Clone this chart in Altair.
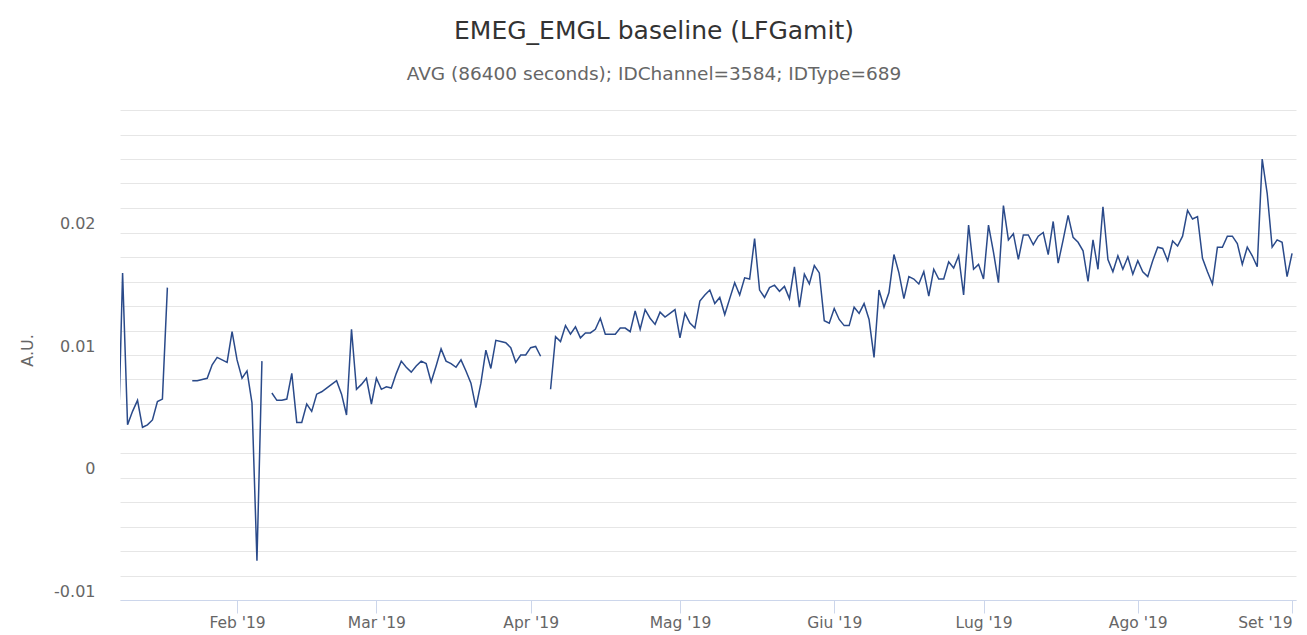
import altair as alt
import pandas as pd

# ---------------- data (daily averages, None = missing day) ----------------
start_date = "2019-01-08"
values = [
    # Jan 8 - Jan 31
    0.0010, 0.0167, 0.0043, 0.0054, 0.0063, 0.0041, 0.0043, 0.0047, 0.0062, 0.0064, 0.0155,
    None, None, None, None,
    0.0079, 0.0079, 0.0080, 0.0081, 0.0092, 0.0098, 0.0096, 0.0094, 0.0119,
    # Feb 1 - Feb 28
    0.0096, 0.0081, 0.0087, 0.0061, -0.0068, 0.0095, None, 0.0069, 0.0063, 0.0063,
    0.0064, 0.0085, 0.0045, 0.0045, 0.0060, 0.0054, 0.0068, 0.0070, 0.0073, 0.0076,
    0.0079, 0.0068, 0.0051, 0.0121, 0.0072, 0.0076, 0.0081, 0.0060,
    # Mar 1 - Mar 31
    0.0081, 0.0072, 0.0074, 0.0073, 0.0085, 0.0095, 0.0090, 0.0086, 0.0091, 0.0095,
    0.0093, 0.0078, 0.0091, 0.0105, 0.0095, 0.0093, 0.0090, 0.0096, 0.0087, 0.0077,
    0.0057, 0.0077, 0.0104, 0.0089, 0.0112, 0.0111, 0.0110, 0.0106, 0.0094, 0.0100, 0.0100,
    # Apr 1 - Apr 30
    0.0106, 0.0107, 0.0099, None, 0.0072, 0.0115, 0.0111, 0.0124, 0.0117, 0.0123,
    0.0114, 0.0118, 0.0118, 0.0121, 0.0130, 0.0117, 0.0117, 0.0117, 0.0122, 0.0122,
    0.0119, 0.0136, 0.0121, 0.0137, 0.0130, 0.0125, 0.0135, 0.0131, 0.0134, 0.0137,
    # May 1 - May 31
    0.0114, 0.0134, 0.0126, 0.0122, 0.0144, 0.0149, 0.0153, 0.0142, 0.0147, 0.0133,
    0.0146, 0.0159, 0.0149, 0.0163, 0.0162, 0.0195, 0.0153, 0.0147, 0.0155, 0.0157,
    0.0152, 0.0156, 0.0146, 0.0172, 0.0139, 0.0166, 0.0158, 0.0173, 0.0167, 0.0128, 0.0126,
    # Jun 1 - Jun 30
    0.0138, 0.0129, 0.0124, 0.0124, 0.0139, 0.0134, 0.0142, 0.0129, 0.0098, 0.0153,
    0.0139, 0.0151, 0.0182, 0.0167, 0.0146, 0.0164, 0.0162, 0.0158, 0.0168, 0.0148,
    0.0170, 0.0162, 0.0162, 0.0176, 0.0171, 0.0181, 0.0149, 0.0206, 0.0170, 0.0174,
    # Jul 1 - Jul 31
    0.0162, 0.0206, 0.0184, 0.0159, 0.0222, 0.0194, 0.0199, 0.0178, 0.0198, 0.0198,
    0.0190, 0.0197, 0.0200, 0.0182, 0.0209, 0.0175, 0.0194, 0.0214, 0.0196, 0.0192,
    0.0185, 0.0160, 0.0194, 0.0170, 0.0221, 0.0178, 0.0168, 0.0181, 0.0170, 0.0180, 0.0166,
    # Aug 1 - Aug 31
    0.0177, 0.0168, 0.0164, 0.0177, 0.0188, 0.0187, 0.0177, 0.0193, 0.0189, 0.0197,
    0.0218, 0.0211, 0.0213, 0.0179, 0.0168, 0.0158, 0.0188, 0.0188, 0.0197, 0.0197,
    0.0191, 0.0174, 0.0188, 0.0181, 0.0172, 0.0260, 0.0232, 0.0188, 0.0194, 0.0192, 0.0164,
    # Sep 1
    0.0183,
]

x_tick_dates = ["2019-02-01", "2019-03-01", "2019-04-01", "2019-05-01",
                "2019-06-01", "2019-07-01", "2019-08-01", "2019-09-01"]
month_names = ["Gen", "Feb", "Mar", "Apr", "Mag", "Giu", "Lug", "Ago", "Set", "Ott", "Nov", "Dic"]
y_grid_values = [-0.010, -0.008, -0.006, -0.004, -0.002, 0.0, 0.002, 0.004, 0.006, 0.008,
                 0.010, 0.012, 0.014, 0.016, 0.018, 0.020, 0.022, 0.024, 0.026, 0.028, 0.030]
y_label_values = [-10, 0, 10, 20]          # in thousandths
y_label_texts = ["-0.01", "0", "0.01", "0.02"]

title_text = "EMEG_EMGL baseline (LFGamit)"
subtitle_text = "AVG (86400 seconds); IDChannel=3584; IDType=689"
y_title = "A.U."

# ---------------- table ----------------
dates = pd.date_range(start_date, periods=len(values), freq="D").strftime("%Y-%m-%d")
rows = []
seg = 0
prev_none = False
for d, v in zip(dates, values):
    if v is None:
        prev_none = True
        continue
    if prev_none:
        seg += 1
        prev_none = False
    rows.append({"date": d, "value": v, "segment": seg})
df = pd.DataFrame(rows)

FONT = "DejaVu Sans"

y_label_expr = "".join(
    f"round(datum.value*1000) == {v} ? '{t}' : " for v, t in zip(y_label_values, y_label_texts)
) + "''"
month_list = "[" + ",".join(f"'{m}'" for m in month_names) + "]"
x_label_expr = f"{month_list}[utcmonth(datum.value)] + \" '\" + substring(toString(utcyear(datum.value)), 2, 4)"

x_axis = alt.Axis(
    values=[alt.DateTime(year=int(s[:4]), month=int(s[5:7]), date=int(s[8:10]), utc=True) for s in x_tick_dates],
    labelExpr=x_label_expr,
    grid=False,
    domainColor="#ccd6eb",
    tickColor="#ccd6eb",
    tickSize=13,
    labelPadding=2,
    labelFont=FONT,
    labelFontSize=15.5,
    labelColor="#666666",
    labelFlush=8,
    title=None,
)

y_axis = alt.Axis(
    values=y_grid_values,
    labelExpr=y_label_expr,
    grid=True,
    gridColor="#e6e6e6",
    gridWidth=1,
    domain=False,
    ticks=False,
    tickSize=0,
    labelPadding=25,
    labelOffset=-9,
    labelFont=FONT,
    labelFontSize=16,
    labelColor="#666666",
    title=y_title,
    titleFont=FONT,
    titleFontSize=16,
    titleFontWeight="normal",
    titleColor="#666666",
    titleX=-93,
    titleY=240,
    titleBaseline="middle",
)

chart = alt.Chart(df).mark_line(color="#2a4a8a", strokeWidth=1.5, clip=True).encode(
    x=alt.X(
        "date:T",
        scale=alt.Scale(
            type="utc",
            domain=[
                alt.DateTime(year=2019, month=1, date=8, hours=11, minutes=30, utc=True),
                alt.DateTime(year=2019, month=9, date=1, hours=19, utc=True),
            ],
        ),
        axis=x_axis,
    ),
    y=alt.Y("value:Q", scale=alt.Scale(domain=[-0.01, 0.03], nice=False, zero=False), axis=y_axis),
    detail="segment:N",
).properties(
    width=1176,
    height=490,
    background="white",
    title=alt.TitleParams(
        text=title_text,
        subtitle=subtitle_text,
        font=FONT,
        fontSize=25,
        fontWeight="normal",
        color="#333333",
        subtitleFont=FONT,
        subtitleFontSize=18.5,
        subtitleColor="#666666",
        subtitlePadding=21,
        anchor="middle",
        dx=-54,
        offset=27,
    ),
    autosize=alt.AutoSizeParams(type="none"),
    padding={"left": 112, "top": 102, "right": 3, "bottom": 35},
).configure_view(stroke=None, strokeWidth=0)

chart.save("out.html", embed_options={"renderer": "svg", "actions": False})
